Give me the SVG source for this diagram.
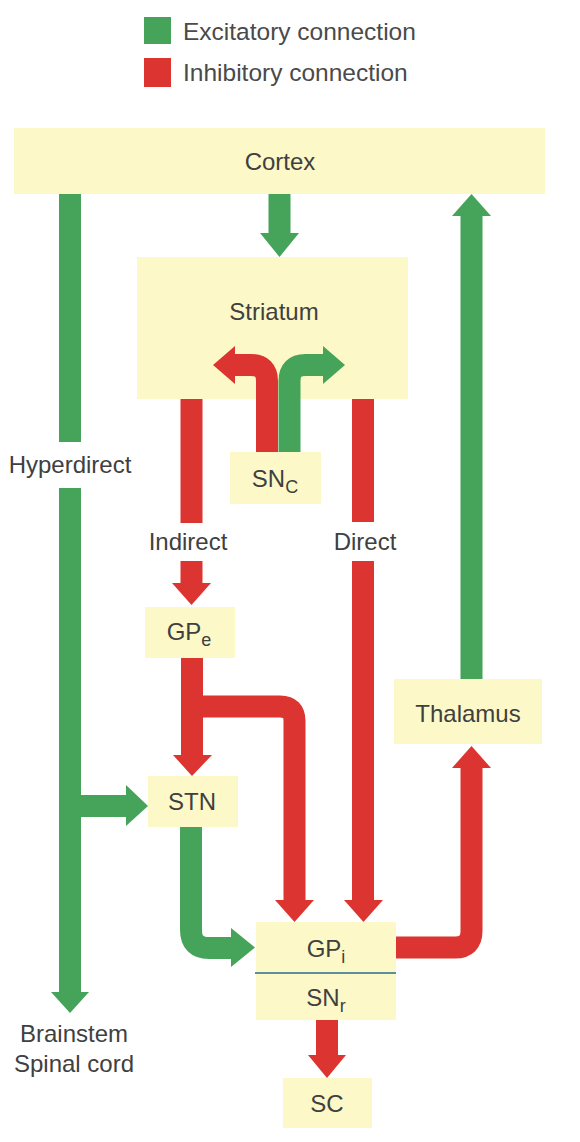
<svg xmlns="http://www.w3.org/2000/svg" width="580" height="1142" viewBox="0 0 580 1142">
<style>
.box{fill:#fdf8c8}
.t{font-family:"Liberation Sans",Arial,sans-serif;font-size:24px;fill:#404040;text-anchor:middle}
.lg{font-family:"Liberation Sans",Arial,sans-serif;font-size:24.5px;fill:#4a4a4a}
.sub{font-size:18px}
.g{stroke:#45a35a;stroke-width:22;fill:none}
.r{stroke:#dc3430;stroke-width:22;fill:none}
.gh{fill:#45a35a}
.rh{fill:#dc3430}
</style>
<rect width="580" height="1142" fill="#ffffff"/>
<g id="legend">
<rect x="144" y="17" width="27" height="27" class="gh"/>
<text x="183" y="40" class="lg">Excitatory connection</text>
<rect x="144" y="58" width="27" height="29" class="rh"/>
<text x="183" y="81" class="lg">Inhibitory connection</text>
</g>
<g id="cortex">
<rect x="14" y="128" width="531" height="66" class="box"/>
<text x="280" y="170" class="t">Cortex</text>
</g>
<g id="striatum">
<rect x="137" y="257" width="271" height="142" class="box"/>
<text x="274" y="320" class="t">Striatum</text>
</g>
<g id="snc">
<rect x="230" y="452" width="91" height="52" class="box"/>
<text x="275" y="487" class="t">SN<tspan class="sub" dy="6">C</tspan></text>
</g>
<g id="gpe">
<rect x="145" y="607" width="90" height="51" class="box"/>
<text x="189" y="640" class="t">GP<tspan class="sub" dy="6">e</tspan></text>
</g>
<g id="stn">
<rect x="148" y="776" width="90" height="51" class="box"/>
<text x="192" y="810" class="t">STN</text>
</g>
<g id="thalamus">
<rect x="394" y="679" width="148" height="65" class="box"/>
<text x="468" y="722" class="t">Thalamus</text>
</g>
<g id="gpi-snr">
<rect x="256" y="922" width="140" height="98" class="box"/>
<line x1="255" y1="973" x2="396" y2="973" stroke="#5b8f9c" stroke-width="2"/>
<text x="326" y="957" class="t">GP<tspan class="sub" dy="6">i</tspan></text>
<text x="326" y="1006" class="t">SN<tspan class="sub" dy="6">r</tspan></text>
</g>
<g id="sc">
<rect x="283" y="1078" width="89" height="50" class="box"/>
<text x="327" y="1112" class="t">SC</text>
</g>
<g id="connectors">
<line x1="70" y1="194" x2="70" y2="442" class="g"/>
<line x1="70" y1="488" x2="70" y2="993" class="g"/>
<polygon points="51,992 89,992 70,1013" class="gh"/>
<line x1="70" y1="806" x2="127" y2="806" class="g"/>
<polygon points="126,785 126,826 148,806" class="gh"/>
<line x1="279.5" y1="194" x2="279.5" y2="234" class="g"/>
<polygon points="260,233 299,233 279.5,257" class="gh"/>
<line x1="471.5" y1="679" x2="471.5" y2="215" class="g"/>
<polygon points="452,216 491,216 471.5,194" class="gh"/>
<path d="M267,452 V381 Q267,365 251,365 H234" class="r"/>
<polygon points="235,346 235,384 213,365" class="rh"/>
<path d="M289.5,452 V381 Q289.5,365 305.5,365 H324" class="g"/>
<polygon points="323,346 323,384 345,365" class="gh"/>
<line x1="191.5" y1="399" x2="191.5" y2="523" class="r"/>
<line x1="191.5" y1="561" x2="191.5" y2="584" class="r"/>
<polygon points="172,583 211,583 191.5,605" class="rh"/>
<line x1="192" y1="658" x2="192" y2="756" class="r"/>
<polygon points="173,755 212,755 192,776" class="rh"/>
<path d="M192,706.5 H280 Q294.5,706.5 294.5,721 V901" class="r"/>
<polygon points="275,900 314,900 294.5,922" class="rh"/>
<line x1="363" y1="399" x2="363" y2="522" class="r"/>
<line x1="363" y1="561" x2="363" y2="901" class="r"/>
<polygon points="344,900 383,900 363.5,922" class="rh"/>
<path d="M191,827 V930 Q191,948 209,948 H232" class="g"/>
<polygon points="231,928 231,967 255,947.5" class="gh"/>
<path d="M396,947.5 H455 Q471.5,947.5 471.5,931 V767" class="r"/>
<polygon points="452,768 491,768 471.5,746" class="rh"/>
<line x1="327" y1="1020" x2="327" y2="1056" class="r"/>
<polygon points="308,1055 346,1055 327,1078" class="rh"/>
</g>
<g id="labels">
<text x="70" y="473" class="t">Hyperdirect</text>
<text x="188" y="550" class="t">Indirect</text>
<text x="365" y="550" class="t">Direct</text>
<text x="74" y="1042" class="t">Brainstem</text>
<text x="74" y="1072" class="t">Spinal cord</text>
</g>
</svg>
